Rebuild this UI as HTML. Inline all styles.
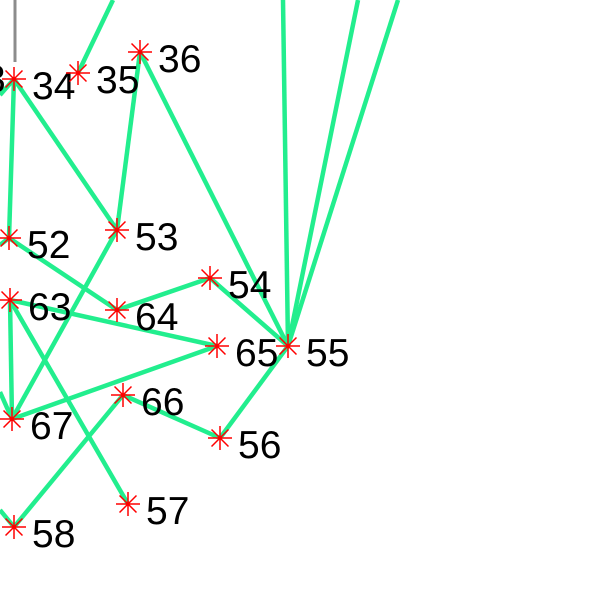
<!DOCTYPE html>
<html><head><meta charset="utf-8"><style>
html,body{margin:0;padding:0;background:#fff;width:600px;height:600px;overflow:hidden}
svg text{font-family:"Liberation Sans",Arial,sans-serif;font-size:39px;fill:#000}
</style></head><body>
<svg id="chart" width="600" height="600" viewBox="0 0 600 600">
<line x1="15" y1="0" x2="15" y2="62" stroke="#8c8c8c" stroke-width="3"/>
<g id="edges"></g>
<g id="nodes"></g>
</svg>
<script>
const nodeIds = ["34","35","36","52","53","54","63","64","65","55","66","67","56","57","58","3x"];
const nodeX = [14,78,140,9,117,210,10,117,217,288,123,12,220,128,14,-34];
const nodeY = [79,73,52,238,230,278,300,310,346,346,395,419,438,504,527,72];
const offNodes = {t1:[113,0],t2:[283,0],t3:[358,0],t4:[398,0],l1:[0,95],l2:[0,245],l3:[0,392],l4:[0,510]};
const edgeList = [["t1","35"],["t2","55"],["t3","55"],["t4","55"],["l1","34"],["l2","52"],["l3","67"],["l4","58"],
["34","52"],["34","53"],["36","53"],["36","55"],["52","64"],["63","65"],["63","57"],["63","67"],["67","53"],["67","65"],
["64","54"],["54","55"],["55","56"],["56","66"],["66","58"]];
const NS="http://www.w3.org/2000/svg";
function pos(id){ if(offNodes[id]) return offNodes[id]; const i=nodeIds.indexOf(id); return [nodeX[i],nodeY[i]]; }
const eg=document.getElementById('edges'), ng=document.getElementById('nodes');
edgeList.forEach(e=>{
 const a=pos(e[0]),b=pos(e[1]);
 const l=document.createElementNS(NS,'line');
 
 
 l.setAttribute('x1',a[0]);l.setAttribute('y1',a[1]);l.setAttribute('x2',b[0]);l.setAttribute('y2',b[1]);
 l.setAttribute('stroke','#22ee8e');l.setAttribute('stroke-width','4.5');
 eg.appendChild(l);
});
nodeIds.forEach((id,i)=>{
 const x=nodeX[i],y=nodeY[i];
 const g=document.createElementNS(NS,'g');
 
 
 let d='';
 for(let k=0;k<4;k++){const a=k*Math.PI/4;const dx=12*Math.cos(a),dy=12*Math.sin(a);d+=`M${x-dx},${y-dy}L${x+dx},${y+dy}`;}
 const p=document.createElementNS(NS,'path');
 p.setAttribute('d',d);p.setAttribute('stroke','#ff0000');p.setAttribute('stroke-width','1.5');
 
 
 g.appendChild(p);
 const t=document.createElementNS(NS,'text');
 t.setAttribute('x',x+18);t.setAttribute('y',y+20);
 t.textContent=id==="3x"?"3":id;
 
 
 g.appendChild(t);
 ng.appendChild(g);
});
</script>
</body></html>
